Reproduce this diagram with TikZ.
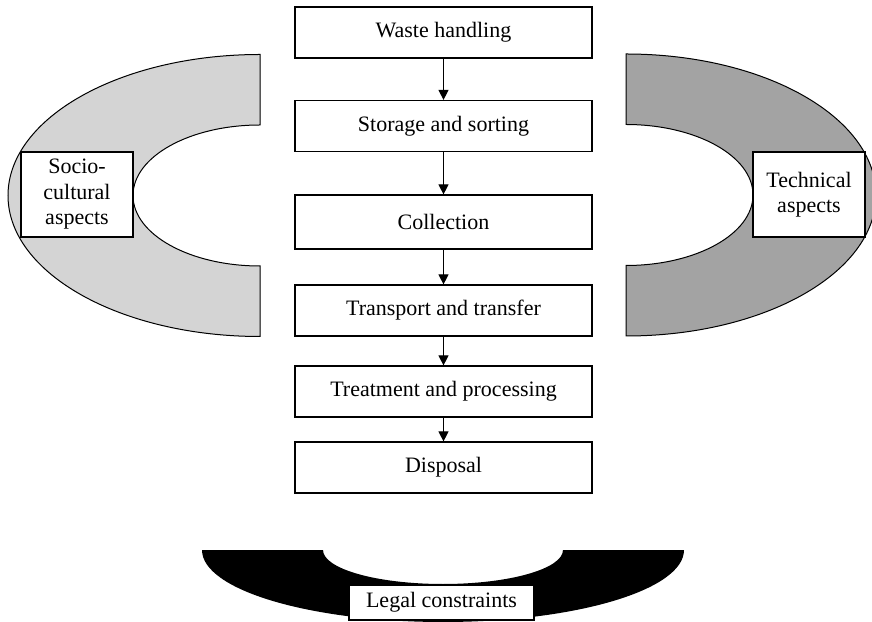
\documentclass[tikz,border=0pt]{standalone}
\usepackage{fontspec}
\setmainfont{Liberation Serif}
\usetikzlibrary{arrows.meta}
\definecolor{sociofill}{RGB}{212,212,212}
\definecolor{techfill}{RGB}{163,163,163}
\begin{document}
\begin{tikzpicture}[x=1pt,y=1pt,
  textfont/.style={font=\fontsize{22}{25.5}\selectfont},
  stage/.style={draw, line width=1.2pt, fill=white, minimum width=297pt,
    minimum height=51pt, inner sep=0pt, textfont},
  aspect/.style={draw, line width=1.2pt, fill=white, minimum width=112pt,
    minimum height=85pt, inner sep=0pt, align=center, textfont},
  legalbox/.style={draw, line width=1.2pt, fill=white, minimum width=185pt,
    minimum height=35pt, inner sep=0pt, textfont},
  flow/.style={line width=1.2pt, -{Triangle[length=10pt,width=10pt]}},
  band/.style={draw=black, line width=1pt}]
\useasboundingbox (0,0) rectangle (872,621);
\clip (0,0) rectangle (872,621);
\fill[white] (0,0) rectangle (872,621);

% socio-cultural half ring (left)
\path[band, fill=sociofill]
  (260,566.5) arc[start angle=90, end angle=270, x radius=252, y radius=141]
  -- (260,355) arc[start angle=270, end angle=90, x radius=127, y radius=70.5]
  -- cycle;

% technical half ring (right)
\path[band, fill=techfill]
  (626,567) arc[start angle=90, end angle=-90, x radius=250, y radius=141]
  -- (626,355.5) arc[start angle=-90, end angle=90, x radius=127, y radius=70.5]
  -- cycle;

% legal constraints band (bottom)
\fill[black]
  (202,71) arc[start angle=180, end angle=360, x radius=241, y radius=72]
  -- (563,71) arc[start angle=0, end angle=-180, x radius=120, y radius=34]
  -- cycle;

% functional elements
\node[stage] (waste) at (443.5,588.5) {Waste handling};
\node[stage] (storage) at (443.5,495) {Storage and sorting};
\node[stage, minimum height=54pt] (collection) at (443.5,399) {Collection};
\node[stage] (transport) at (443.5,310.5) {Transport and transfer};
\node[stage] (treatment) at (443.5,229.5) {Treatment and processing};
\node[stage] (disposal) at (443.5,153.5) {Disposal};

\draw[flow] (waste) -- (storage);
\draw[flow] (storage) -- (collection);
\draw[flow] (collection) -- (transport);
\draw[flow] (transport) -- (treatment);
\draw[flow] (treatment) -- (disposal);

% aspect labels
\node[aspect] (socio) at (77,426.5) {Socio-\\cultural\\aspects};
\node[aspect] (tech) at (809,426.5) {Technical\\aspects};
\node[legalbox] (legal) at (441.5,18.5) {Legal constraints};
\end{tikzpicture}
\end{document}
